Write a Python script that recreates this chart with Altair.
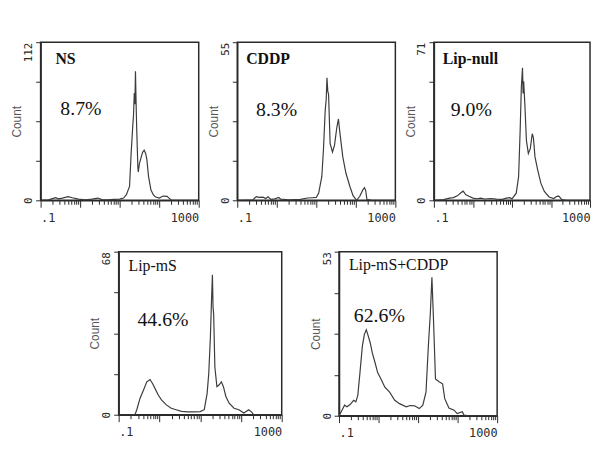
import altair as alt
import numpy as np
import pandas as pd

# ---- panel metadata ----
names = ["NS", "CDDP", "Lip-null", "Lip-mS", "Lip-mS+CDDP"]
percents = ["8.7%", "8.3%", "9.0%", "44.6%", "62.6%"]
ymaxes = [112, 55, 71, 68, 53]
name_bold = [True, True, True, False, False]

# ---- histogram readings (log10 fluorescence position, count) ----
ns_log = [-1.0, -0.8, -0.7, -0.62, -0.55, -0.45, -0.3, -0.2, -0.1, 0.0, 0.15, 0.3, 0.45, 0.55, 0.7,
          0.85, 1.0, 1.1, 1.17, 1.25, 1.29, 1.33, 1.35, 1.37, 1.385, 1.40, 1.415, 1.43, 1.46, 1.47,
          1.50, 1.54, 1.58, 1.62, 1.66, 1.69, 1.73, 1.79, 1.85, 1.9, 2.0, 2.1, 2.2, 2.25, 2.3, 2.5, 3.0]
ns_count = [0, 0.3, 1.2, 1.9, 1.0, 1.5, 2.6, 1.8, 1.2, 0.6, 0.4, 0.8, 1.6, 0.5, 0.4,
            0.6, 0.8, 1.6, 4.0, 9.8, 33, 52, 60, 76, 68, 91.5, 70, 52, 24, 20,
            26, 30, 34, 35.5, 33, 28.5, 17, 7.5, 4.0, 2.5, 1.6, 3.0, 2.8, 1.5, 0.2, 0, 0]

cddp_log = [-1.0, -0.6, -0.52, -0.45, -0.35, -0.28, -0.22, -0.15, -0.05, 0.05, 0.1, 0.3, 0.6, 0.78,
            0.9, 1.0, 1.06, 1.14, 1.18, 1.225, 1.25, 1.27, 1.29, 1.31, 1.35, 1.41, 1.46, 1.52, 1.56,
            1.6, 1.67, 1.75, 1.85, 1.93, 2.02, 2.1, 2.18, 2.22, 2.25, 2.28, 2.4, 3.0]
cddp_count = [0, 0.2, 1.3, 1.0, 1.1, 0.6, 1.2, 0.3, 0.5, 1.0, 0.4, 0.2, 0.3, 0.8,
              0.9, 1.0, 2.5, 8.3, 17.4, 31.2, 35, 42.6, 38, 36.9, 19.7, 16.8, 19.1, 25.4, 28.3,
              23.1, 15.1, 9.4, 4.8, 1.6, 0, 1.4, 3.7, 4.4, 3.4, 0.3, 0, 0]

null_log = [-1.0, -0.75, -0.6, -0.5, -0.4, -0.3, -0.25, -0.18, -0.1, 0.0, 0.1, 0.2, 0.3, 0.45, 0.6,
            0.75, 0.86, 0.95, 1.0, 1.11, 1.17, 1.21, 1.24, 1.27, 1.285, 1.30, 1.33, 1.37, 1.42, 1.47,
            1.52, 1.55, 1.59, 1.66, 1.74, 1.83, 1.95, 2.07, 2.15, 2.2, 2.28, 2.4, 3.0]
null_count = [0, 0.3, 1.0, 1.2, 2.0, 3.5, 4.1, 2.5, 1.8, 1.0, 0.7, 1.0, 0.6, 0.8, 0.5,
              0.4, 1.0, 1.2, 0.6, 3.2, 10.6, 31.4, 50.6, 59.5, 48, 53.5, 43.2, 26.9, 21, 23.2,
              29.9, 28, 19.5, 13.6, 7.7, 4.0, 1.5, 0.8, 1.8, 1.9, 0.3, 0, 0]

ms_log = [-1.0, -0.6, -0.556, -0.475, -0.39, -0.31, -0.27, -0.23, -0.17, -0.11, -0.03, 0.05, 0.17,
          0.29, 0.41, 0.54, 0.7, 0.85, 1.0, 1.1, 1.17, 1.21, 1.25, 1.28, 1.30, 1.315, 1.33, 1.36,
          1.41, 1.46, 1.52, 1.57, 1.63, 1.71, 1.83, 1.95, 2.07, 2.19, 2.27, 2.31, 3.0]
ms_count = [0, 0, 2.1, 6.9, 10.3, 13.7, 14.2, 14.7, 13, 11, 8.2, 6.2, 4.1,
            2.7, 2.1, 1.4, 1.2, 1.2, 1.3, 2.1, 8.9, 17.2, 32.3, 48.8, 58.4, 45, 41.9, 19.9,
            11.7, 12.4, 13.7, 11.7, 7.6, 4.8, 2.7, 2.1, 0.7, 2.1, 1.0, 0, 0]

mscddp_log = [-1.0, -0.925, -0.86, -0.8, -0.72, -0.63, -0.575, -0.525, -0.47, -0.41, -0.36, -0.31,
              -0.26, -0.21, -0.16, -0.09, -0.025, 0.06, 0.16, 0.28, 0.41, 0.53, 0.7, 0.8, 0.91, 1.03,
              1.12, 1.2, 1.26, 1.31, 1.35, 1.39, 1.44, 1.53, 1.62, 1.675, 1.78, 1.91, 1.99, 2.12,
              2.16, 2.3, 3.0]
mscddp_count = [0, 1.8, 3.4, 2.9, 3.6, 5.0, 4.5, 6.6, 14, 22.5, 26.2, 27.8,
                25.7, 23.5, 20.4, 17.2, 14, 11.9, 9.2, 7.6, 5.0, 3.9, 2.9, 3.3, 3.2, 2.3,
                3.4, 7.6, 22.5, 33.1, 44.7, 31, 11.9, 11, 10.3, 5.5, 2.5, 1.8, 0.7, 1.3,
                0.2, 0, 0]

all_logs = [ns_log, cddp_log, null_log, ms_log, mscddp_log]
all_counts = [ns_count, cddp_count, null_count, ms_count, mscddp_count]

# ---- axis tick values ----
x_ticks = [0.1, 0.2, 0.3, 0.4, 0.5, 0.6, 0.7, 0.8, 0.9,
           1, 2, 3, 4, 5, 6, 7, 8, 9,
           10, 20, 30, 40, 50, 60, 70, 80, 90,
           100, 200, 300, 400, 500, 600, 700, 800, 900, 1000]

# ---- layout (styles) ----
sizes = [(160, 160), (160, 160), (158, 160), (165, 165), (160, 166)]
name_pos = [(15, 17), (9, 17), (9, 17), (10, 15), (10, 14)]
pct_pos = [(20, 68), (19, 69), (17, 69), (19, 69), (15, 65)]

INK = "#2a2a2a"


def panel(i):
    ymax = ymaxes[i]
    w, h = sizes[i]
    df = pd.DataFrame({"fl": 10 ** np.array(all_logs[i], dtype=float), "count": all_counts[i]})
    yt = [ymax * k / 4 for k in range(5)]
    x_axis = alt.Axis(
        values=x_ticks,
        labelExpr="datum.value < 0.15 ? '.1' : (datum.value > 900 ? '1000' : '')",
        labelFlush=True,
        labelOverlap=False,
        tickSize={"condition": {"test": "datum.value == 0.1 || datum.value == 1 || datum.value == 10 || datum.value == 100 || datum.value == 1000", "value": 7}, "value": 4},
        grid=False,
        labelFont="DejaVu Sans Mono",
        labelFontSize=12,
        labelPadding=5,
        labelColor=INK,
    )
    y_axis = alt.Axis(
        values=yt,
        format="d",
        labelExpr=f"datum.value == 0 || datum.value == {ymax} ? datum.label : ''",
        labelAngle=270,
        labelAlign={"condition": {"test": "datum.value == 0", "value": "center"}, "value": "right"},
        labelBaseline="bottom",
        labelFont="DejaVu Sans Mono",
        labelFontSize=11,
        labelColor=INK,
        labelOverlap=False,
        labelPadding=2,
        tickSize=5,
        grid=False,
        title="Count",
        titleFont="Liberation Sans",
        titleFontSize=12,
        titleFontWeight="normal",
        titleColor="#555555",
        titlePadding=2,
        minExtent=15,
        maxExtent=15,
    )
    line = alt.Chart(df).mark_line(color="#3c3c3c", strokeWidth=1.2, clip=True).encode(
        x=alt.X("fl:Q", scale=alt.Scale(type="log", domain=[0.1, 1000], nice=False), axis=x_axis, title=None),
        y=alt.Y("count:Q", scale=alt.Scale(domain=[0, ymax], nice=False), axis=y_axis),
        order="fl:Q",
    )
    nx, ny = name_pos[i]
    name_t = alt.Chart(pd.DataFrame({"t": [names[i]]})).mark_text(
        align="left", baseline="middle", font="Liberation Serif", fontSize=16,
        fontWeight="bold" if name_bold[i] else "normal", color="#111111",
    ).encode(x=alt.value(nx), y=alt.value(ny), text="t:N")
    px, py = pct_pos[i]
    pct_t = alt.Chart(pd.DataFrame({"t": [percents[i]]})).mark_text(
        align="left", baseline="middle", font="Liberation Serif", fontSize=20, color="#111111",
    ).encode(x=alt.value(px), y=alt.value(py), text="t:N")
    return alt.layer(line, name_t, pct_t).properties(width=w, height=h)


spacer = alt.Chart(pd.DataFrame({"a": [0]})).mark_point(opacity=0).encode(
    x=alt.value(0), y=alt.value(0)
).properties(width=23, height=10, view=alt.ViewBackground(strokeOpacity=0))

top = alt.hconcat(panel(0), panel(1), panel(2), spacing=6)
bottom = alt.hconcat(spacer, panel(3), panel(4), spacing=25)

chart = alt.vconcat(top, bottom, spacing=25).properties(
    padding={"left": 2, "top": 30, "right": 0, "bottom": 2},
    background="white",
).configure_view(
    stroke=INK, strokeWidth=1.5
).configure_axis(
    domainColor=INK, domainWidth=1.5, tickColor=INK, tickWidth=1
)

chart.save("out.html", embed_options={"renderer": "svg", "actions": False})
